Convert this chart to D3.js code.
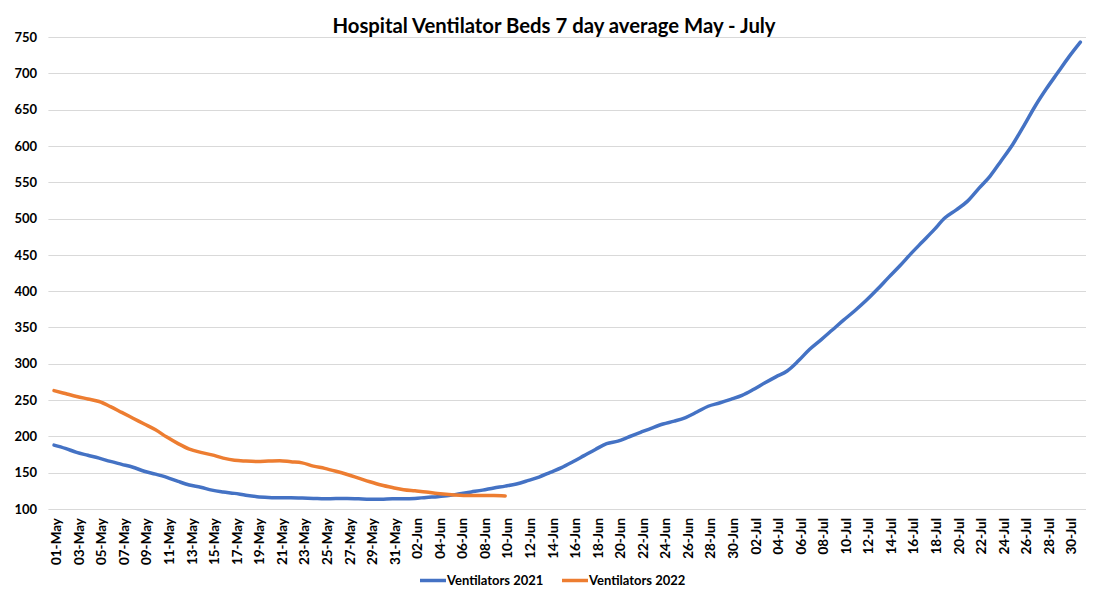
<!DOCTYPE html>
<html>
<head>
<meta charset="utf-8">
<script src="https://cdn.jsdelivr.net/npm/d3@7"></script>
<style>
  body { margin: 0; background: #fff; }
  svg text { font-family: Lato, "Open Sans", sans-serif; font-weight: bold; fill: #000; }
  .grid line { stroke: #d9d9d9; stroke-width: 1; }
  .series { fill: none; stroke-width: 3.5; stroke-linejoin: round; stroke-linecap: round; }
</style>
</head>
<body>
<div id="chart"></div>
<script>
// Categories: every day 01-May .. 31-Jul
var days = d3.timeDay.range(new Date(2021, 4, 1), new Date(2021, 7, 1));
var fmtDay = d3.timeFormat('%d-%b');
var categories = days.map(fmtDay);

// Ventilator beds, 7 day average
var ventilators2021 = [
  188, 183.5, 178, 174, 170, 165.5, 161.5, 157.5, 152, 148,
  143.5, 138, 133, 130, 126, 123.5, 121.5, 119, 117, 116,
  115.5, 115.5, 115, 114.5, 114, 114.5, 114.5, 114, 113.5, 113.5,
  114, 114, 114.5, 116, 117, 118.5, 121, 123.5, 126, 129,
  131.5, 134.5, 139, 144, 150.5, 157, 165, 173.5, 182, 190,
  193.5, 199.5, 205.5, 211.5, 217, 221, 226, 233.5, 241.5, 246,
  251, 256.5, 264.5, 273.5, 282, 290, 304, 320, 333, 346.5,
  360, 373, 387, 402.5, 419, 435, 452, 468, 484, 501,
  512, 524, 541.5, 558.5, 580, 602, 628, 655, 679, 701,
  723, 743
];
var ventilators2022 = [
  263, 259, 255, 251.5, 248, 241, 233, 225, 217, 209,
  199, 190, 182.5, 178, 174.5, 170, 167, 166, 165.5, 166,
  166.5, 165, 163.5, 159, 156, 152, 147.5, 142.5, 137.5, 133,
  129.5, 126.5, 125, 123.5, 121.5, 120, 119, 118.5, 118.5, 118.5,
  118
];
var yTicks = [100, 150, 200, 250, 300, 350, 400, 450, 500, 550, 600, 650, 700, 750];

var series = [
  { name: 'Ventilators 2021', values: ventilators2021, color: '#4472c4' },
  { name: 'Ventilators 2022', values: ventilators2022, color: '#ed7d31' }
];

var width = 1103,
    height = 600,
    plotLeft = 48.4,
    plotRight = 1086,
    plotTop = 37,
    plotBottom = 509;

var svg = d3.select('#chart')
    .append('svg')
    .attr('width', width)
    .attr('height', height);

var x = d3.scalePoint()
    .domain(categories)
    .range([plotLeft, plotRight])
    .padding(0.5);

var y = d3.scaleLinear()
    .domain([100, 750])
    .range([plotBottom, plotTop]);

// Title
svg.append('text')
    .attr('x', 554)
    .attr('y', 33)
    .attr('text-anchor', 'middle')
    .style('font-size', '20.3px')
    .text('Hospital Ventilator Beds 7 day average May - July');

// Gridlines
svg.append('g')
    .classed('grid', true)
    .selectAll('line')
    .data(yTicks)
    .enter()
    .append('line')
    .attr('x1', plotLeft)
    .attr('x2', plotRight)
    .attr('y1', function(d) { return Math.round(y(d)) + 0.5; })
    .attr('y2', function(d) { return Math.round(y(d)) + 0.5; });

// Y axis labels
var yAxis = d3.axisLeft(y).tickValues(yTicks).tickSize(0).tickPadding(0);
svg.append('g')
    .attr('transform', 'translate(37,0)')
    .call(yAxis)
    .call(function(g) { g.select('.domain').remove(); })
    .selectAll('text')
    .style('font-size', '13px')
    .style('font-family', null);

// X axis labels (every second day)
var xAxis = d3.axisBottom(x)
    .tickValues(categories.filter(function(d, i) { return i % 2 === 0; }))
    .tickSize(0)
    .tickPadding(0);
svg.append('g')
    .attr('transform', 'translate(0,' + plotBottom + ')')
    .call(xAxis)
    .call(function(g) { g.select('.domain').remove(); })
    .selectAll('text')
    .style('font-size', '13.5px')
    .style('font-family', null)
    .attr('text-anchor', 'end')
    .attr('dy', '0.35em')
    .attr('transform', 'translate(2,9) rotate(-90)')
    .attr('x', 0)
    .attr('y', 0);

// Lines
var lineGen = d3.line()
    .x(function(d, i) { return x(categories[i]); })
    .y(function(d) { return y(d); })
    .curve(d3.curveMonotoneX);

svg.append('g')
    .selectAll('path')
    .data(series)
    .enter()
    .append('path')
    .classed('series', true)
    .attr('stroke', function(d) { return d.color; })
    .attr('d', function(d) { return lineGen(d.values); });

// Legend
var legendPos = [420, 562];
var legend = svg.append('g')
    .selectAll('g')
    .data(series)
    .enter()
    .append('g')
    .attr('transform', function(d, i) { return 'translate(' + legendPos[i] + ',580.5)'; });

legend.append('line')
    .attr('x1', 0)
    .attr('x2', 26)
    .attr('stroke', function(d) { return d.color; })
    .attr('stroke-width', 3.5);

legend.append('text')
    .attr('x', 27)
    .attr('dy', '0.35em')
    .style('font-size', '13px')
    .text(function(d) { return d.name; });
</script>
</body>
</html>
